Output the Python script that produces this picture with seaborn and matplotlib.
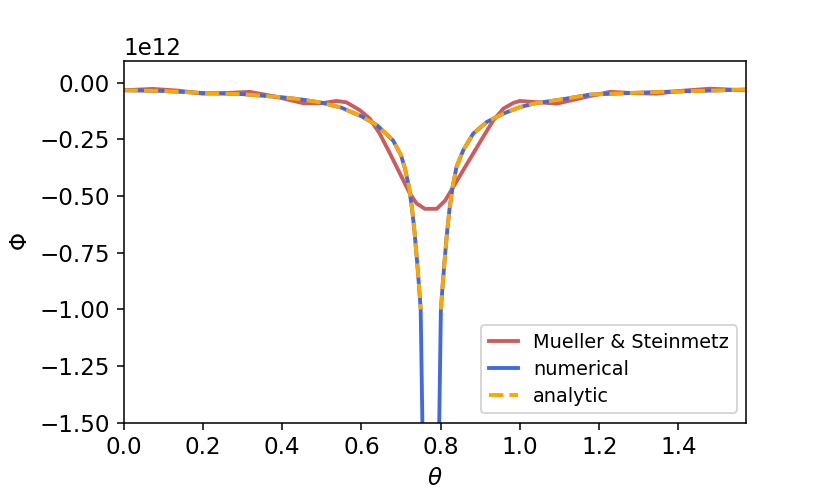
import numpy as np
import pandas as pd
import matplotlib
matplotlib.use("Agg")
import matplotlib.pyplot as plt
from matplotlib.ticker import MultipleLocator
import seaborn as sns

# ── Data (Phi in units of 1e12) ─────────────────────────────
theta = [0.00, 0.10, 0.20, 0.30, 0.40, 0.45, 0.50, 0.55, 0.60, 0.64,
         0.68, 0.70, 0.71, 0.72, 0.728, 0.734, 0.740, 0.745, 0.7495,
         0.775,
         0.8005, 0.805, 0.810, 0.816, 0.822, 0.830, 0.840, 0.857, 0.882,
         0.916, 0.958, 1.00, 1.042, 1.10, 1.177, 1.25, 1.311, 1.40,
         1.446, 1.5708]
analytic = [-0.033, -0.036, -0.045, -0.050, -0.064, -0.074, -0.088, -0.110, -0.148, -0.188,
            -0.255, -0.320, -0.380, -0.460, -0.560, -0.660, -0.780, -0.890, -1.000,
            np.nan,
            -1.000, -0.890, -0.780, -0.660, -0.560, -0.460, -0.370, -0.297, -0.224,
            -0.173, -0.136, -0.107, -0.089, -0.075, -0.052, -0.047, -0.043, -0.038,
            -0.036, -0.030]
numerical_dip = -4.0   # off-scale value at the singular point

mueller_theta = [0.00, 0.074, 0.14, 0.20, 0.26, 0.318, 0.38, 0.453, 0.50, 0.537,
                 0.562, 0.596, 0.621, 0.646, 0.672, 0.697, 0.722, 0.739, 0.760, 0.790,
                 0.811, 0.832, 0.857, 0.882, 0.907, 0.933, 0.958, 0.983, 1.00, 1.03,
                 1.093, 1.16, 1.227, 1.29, 1.345, 1.41, 1.48, 1.5708]
mueller = [-0.033, -0.027, -0.035, -0.048, -0.045, -0.040, -0.060, -0.090, -0.090, -0.080,
           -0.086, -0.121, -0.158, -0.224, -0.312, -0.400, -0.488, -0.532, -0.556, -0.556,
           -0.520, -0.459, -0.385, -0.312, -0.239, -0.165, -0.114, -0.089, -0.080, -0.084,
           -0.092, -0.065, -0.040, -0.046, -0.048, -0.035, -0.026, -0.033]

scale = 1e12
numerical = [numerical_dip if np.isnan(v) else v for v in analytic]
dip_idx = theta.index(0.775)
branch = [0 if i < dip_idx else 1 for i in range(len(theta))]

df_ms = pd.DataFrame({"theta": mueller_theta, "phi": np.array(mueller) * scale})
df_num = pd.DataFrame({"theta": theta, "phi": np.array(numerical) * scale})
df_an = pd.DataFrame({"theta": theta, "phi": np.array(analytic) * scale, "branch": branch}).dropna()

# ── Figure ───────────────────────────────────────────────────
fig, ax = plt.subplots(figsize=(6, 3.6), dpi=830 / 6)
fig.subplots_adjust(left=0.149, right=0.899, bottom=0.151, top=0.877)

sns.lineplot(data=df_ms, x="theta", y="phi", color="indianred", lw=2,
             sort=False, estimator=None, label="Mueller & Steinmetz", ax=ax)
sns.lineplot(data=df_num, x="theta", y="phi", color="royalblue", lw=2,
             sort=False, estimator=None, label="numerical", ax=ax)
sns.lineplot(data=df_an, x="theta", y="phi", units="branch", color="orange", lw=2,
             linestyle="--", sort=False, estimator=None, label="analytic", ax=ax)

ax.set_xlim(0, np.pi / 2)
ax.set_ylim(-1.5e12, 0.095e12)
ax.yaxis.set_major_locator(MultipleLocator(0.25e12))
ax.tick_params(labelsize=12)
ax.yaxis.get_offset_text().set_fontsize(12)
ax.set_xlabel(r"$\theta$", fontsize=12)
ax.set_ylabel(r"$\Phi$", fontsize=12)

handles, labels = ax.get_legend_handles_labels()
uniq = dict(zip(labels, handles))
ax.legend(uniq.values(), uniq.keys(), loc="lower right", fontsize=10,
          handlelength=1.5, labelspacing=0.4)

plt.savefig("out.png", dpi=830 / 6)
